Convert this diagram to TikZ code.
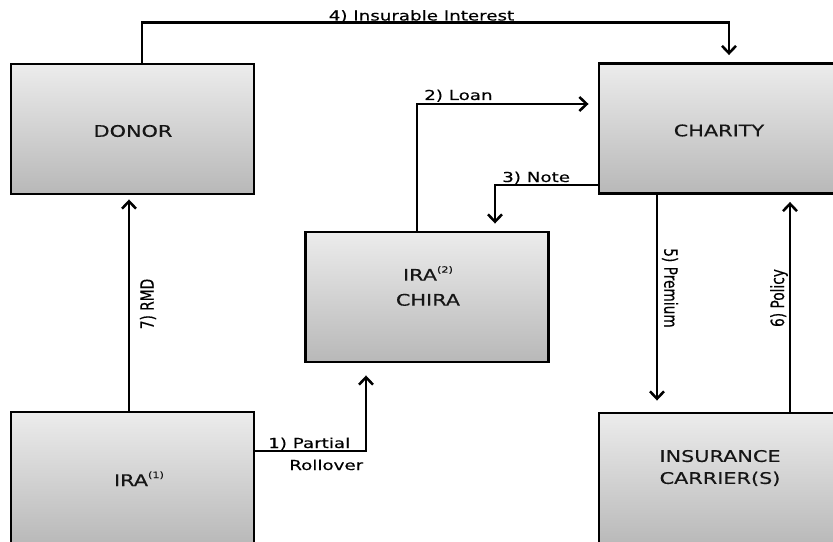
\documentclass[tikz,border=0pt]{standalone}
\usepackage{fontspec}
\usetikzlibrary{arrows.meta,calc}
\newfontfamily\lblfont[FakeStretch=1.33,FakeBold=0.4]{DejaVu Sans}
\newfontfamily\rotfont[FakeStretch=0.75,FakeBold=0.4]{DejaVu Sans}
\newfontfamily\boxfont[FakeStretch=1.3,FakeBold=0.3]{DejaVu Sans}
\definecolor{boxtop}{RGB}{236,236,236}
\definecolor{boxbot}{RGB}{184,184,184}
\definecolor{boxtxt}{RGB}{22,22,22}
\newcommand\supnum[1]{\raisebox{6pt}{\fontsize{6.5}{6.5}\selectfont #1}}
\tikzset{
  block/.style={draw=black, line width=2.2pt, top color=boxtop, bottom color=boxbot,
    minimum width=182.25pt, minimum height=97.5pt, inner sep=0pt},
  tallblock/.style={block, minimum height=100.5pt},
  boxlbl/.style={font=\boxfont\fontsize{12}{18.75}\selectfont, text=boxtxt, align=center, inner sep=0pt},
  lbl/.style={font=\lblfont\fontsize{10.3}{12}\selectfont, inner sep=0pt},
  rotlbl/.style={font=\rotfont\fontsize{13.7}{14}\selectfont, inner sep=0pt},
  conn/.style={line width=1.9pt, -{Straight Barb[length=5.5pt,width=10.5pt]}}
}
\begin{document}
\begin{tikzpicture}[x=0.75pt,y=-0.75pt]
\clip (0,0) rectangle (833,542);
\fill[white] (0,0) rectangle (833,542);

% boxes
\node[block] (donor) at (132.5,129) {};
\node[block] (charity) at (720.5,128.5) {};
\node[block] (chira) at (427,297) {};
\node[tallblock] (ira) at (132.5,479) {};
\node[tallblock] (insurance) at (720.5,480) {};

% box texts
\node[boxlbl] (donor-t) at (133,131) {DONOR};
\node[boxlbl] (charity-t) at (719,130.5) {CHARITY};
\node[boxlbl] (chira-t) at (428,286) {IRA\supnum{(2)}\\CHIRA};
\node[boxlbl, font=\boxfont\fontsize{12}{16.5}\selectfont] (insurance-t) at (720,468) {INSURANCE\\CARRIER(S)};
\node[boxlbl, anchor=base] (ira-t) at (139,486) {IRA\supnum{(1)}};

% 4) Insurable Interest
\draw[conn, shorten >=5.25pt] ($(donor.north)+(9.5,0)$) -- ++(0,-40) -| ($(charity.north)+(8.5,0)$);
\node[lbl, anchor=base] (l4) at (421.5,20.5) {4) Insurable Interest};

% 2) Loan
\draw[conn, shorten >=6.75pt] ($(chira.north)+(-10,0)$) |- ($(charity.west)+(0,-24.5)$);
\node[lbl, anchor=base west] (l2) at (424,100) {2) Loan};

% 3) Note
\draw[conn, shorten >=5.25pt] ($(charity.west)+(0,56.5)$) -| ($(chira.north)+(68,0)$);
\node[lbl, anchor=base west] (l3) at (502,182) {3) Note};

% 1) Partial Rollover
\draw[conn, shorten >=9pt] ($(ira.east)+(0,-28)$) -| ($(chira.south)+(-61,0)$);
\node[lbl, anchor=base west] (l1a) at (268,448) {1) Partial};
\node[lbl, anchor=base west] (l1b) at (289,470) {Rollover};

% 7) RMD
\draw[conn, shorten >=3pt] ($(ira.north)+(-3.5,0)$) -- ($(donor.south)+(-3.5,0)$);
\node[rotlbl, rotate=90] (l7) at (148,304) {7) RMD};

% 5) Premium
\draw[conn, shorten >=8.25pt] ($(charity.south)+(-63.5,0)$) -- ($(insurance.north)+(-63.5,0)$);
\node[rotlbl, rotate=-90] (l5) at (670,288) {5) Premium};

% 6) Policy
\draw[conn, shorten >=5.25pt] ($(insurance.north)+(69.5,0)$) -- ($(charity.south)+(69.5,0)$);
\node[rotlbl, rotate=90] (l6) at (779,298) {6) Policy};
\end{tikzpicture}
\end{document}
